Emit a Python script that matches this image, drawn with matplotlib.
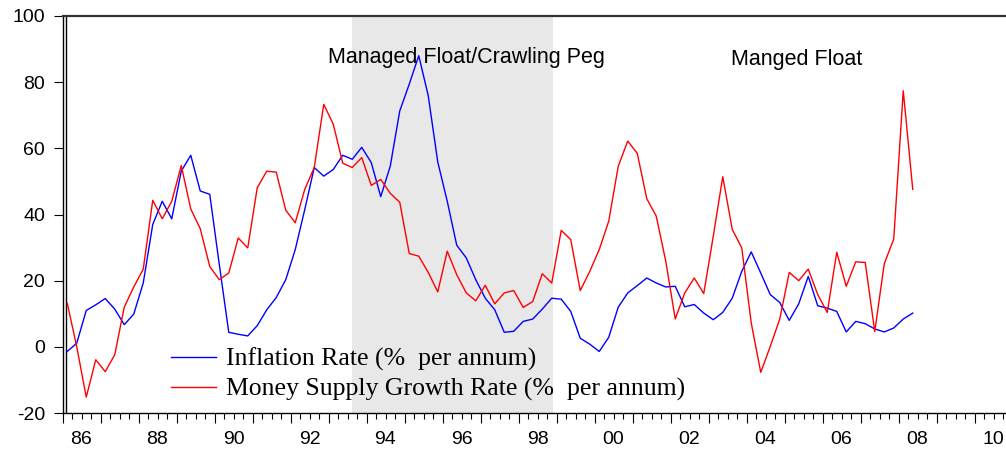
import numpy as np
import matplotlib.pyplot as plt
from matplotlib.ticker import MultipleLocator, FixedLocator

plt.rcParams['axes.unicode_minus'] = False

# quarterly observations 1986Q1 - 2008Q2
inflation = [-1.4, 1.1, 11.0, 12.7, 14.6, 11.4, 6.7, 9.9, 19.3, 37.0,
             44.0, 38.7, 53.1, 57.9, 47.1, 46.1, 25.0, 4.4, 3.8, 3.3,
             6.4, 11.2, 14.9, 20.3, 29.4, 41.5, 54.2, 51.6, 53.6, 57.9,
             56.7, 60.3, 55.7, 45.4, 54.6, 71.3, 79.4, 88.0, 75.9, 55.9,
             44.0, 30.7, 26.9, 20.3, 14.7, 11.2, 4.4, 4.7, 7.7, 8.4,
             11.4, 14.7, 14.4, 10.7, 2.6, 0.8, -1.4, 2.9, 12.0, 16.3,
             18.5, 20.8, 19.3, 18.1, 18.3, 12.1, 12.8, 10.2, 8.2, 10.4,
             14.7, 22.8, 28.7, 22.3, 15.8, 13.4, 8.0, 13.0, 21.3, 12.4,
             11.7, 10.7, 4.5, 7.7, 7.0, 5.4, 4.5, 5.7, 8.4, 10.2]
money_growth = [13.2, 0.0, -15.2, -3.9, -7.5, -2.4, 12.0, 18.1, 23.5, 44.3,
                38.7, 44.0, 54.8, 41.7, 35.7, 24.3, 20.3, 22.3, 32.9, 29.9,
                48.1, 53.1, 52.8, 41.3, 37.5, 47.6, 54.2, 73.3, 67.3, 55.5,
                54.2, 57.2, 48.8, 50.6, 46.4, 43.7, 28.2, 27.4, 22.5, 16.6,
                28.9, 21.8, 16.3, 13.9, 18.6, 13.0, 16.3, 17.0, 11.9, 13.7,
                22.1, 19.3, 35.2, 32.4, 17.0, 22.8, 29.4, 38.0, 54.6, 62.2,
                58.5, 44.8, 39.5, 25.9, 8.4, 16.3, 20.8, 16.1, 33.4, 51.4,
                35.5, 29.9, 7.2, -7.7, 0.1, 8.4, 22.5, 20.0, 23.5, 15.8,
                10.4, 28.6, 18.3, 25.7, 25.5, 4.6, 25.1, 32.6, 77.4, 47.6]
start_year = 1986
regime_start, regime_end = 1993.625, 1998.9
year_labels = ['86', '88', '90', '92', '94', '96', '98', '00', '02', '04', '06', '08', '10']

t = start_year + np.arange(len(inflation)) / 4 + 0.125

W, H = 1006, 449
fig = plt.figure(figsize=(W / 100, H / 100), dpi=100)
left, top, bottom = 62.5, 16, 413
ax = fig.add_axes([left / W, 1 - bottom / H, (W - left) / W, (bottom - top) / H])

ax.axvspan(regime_start, regime_end, color='#e8e8e8', lw=0, zorder=0)
ax.axvline(t[0] - 0.02, color='black', lw=1.0, zorder=1)

ax.plot(t, inflation, color='#0000ff', lw=1.0, zorder=3, label='Inflation Rate (%  per annum)')
ax.plot(t, money_growth, color='#ff0000', lw=1.0, zorder=3,
        label='Money Supply Growth Rate (%  per annum)')

ax.set_xlim(start_year, start_year + (W - left) / 38)
ax.set_ylim(-20, 100)

ax.spines['right'].set_visible(False)
for s in ['left', 'top', 'bottom']:
    ax.spines[s].set_linewidth(1.0)
ax.spines['top'].set_linewidth(1.6)
ax.spines['top'].set_color('#333333')

ax.yaxis.set_major_locator(MultipleLocator(20))
ax.tick_params(axis='y', direction='out', length=6.5, width=0.8, pad=6,
               labelsize=14, labelfontfamily='Liberation Sans')

ax.xaxis.set_major_locator(MultipleLocator(1))
ax.xaxis.set_minor_locator(MultipleLocator(0.25))
ax.tick_params(axis='x', which='major', direction='out', length=7.5, width=0.8, labelbottom=False)
ax.tick_params(axis='x', which='minor', direction='out', length=4, width=0.8)

sec = ax.secondary_xaxis('bottom')
sec.xaxis.set_major_locator(FixedLocator([start_year + 2 * i + 0.5 for i in range(len(year_labels))]))
sec.set_xticklabels(year_labels)
sec.tick_params(length=0, pad=13, labelsize=14, labelfontfamily='Liberation Sans')
sec.spines['bottom'].set_visible(False)

ax.text(1996.62, 87.4, 'Managed Float/Crawling Peg', ha='center', va='center',
        fontsize=15.5, family='Liberation Sans', zorder=4)
ax.text(2005.32, 86.8, 'Manged Float', ha='center', va='center',
        fontsize=15.5, family='Liberation Sans', zorder=4)

ax.legend(loc='upper left', bbox_to_anchor=(171 / W, 1 - 348 / H), bbox_transform=fig.transFigure,
          frameon=False, borderpad=0, borderaxespad=0, handlelength=1.75, handletextpad=0.4,
          labelspacing=0.25, prop={'family': 'Liberation Serif', 'size': 18.5})

fig.savefig('out.png', dpi=100)
